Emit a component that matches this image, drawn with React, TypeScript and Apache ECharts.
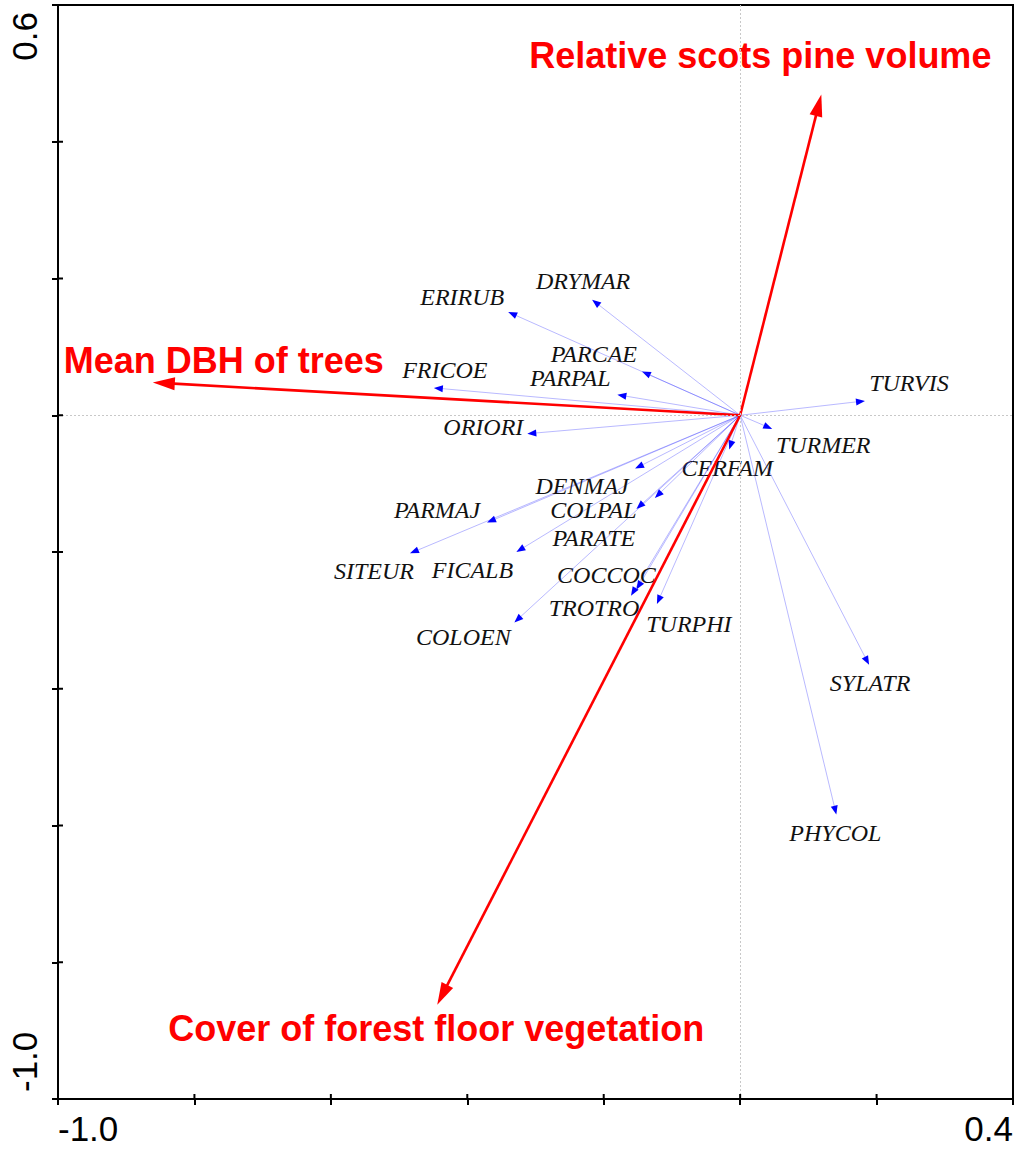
import React, { useEffect, useRef } from "react";
import * as echarts from "echarts";

// ---- Data ----
const X_MIN = -1.0;
const X_MAX = 0.4;
const Y_MIN = -1.0;
const Y_MAX = 0.6;
const TICK_STEP = 0.2;

const xTickLabels = ["-1.0", "0.4"]; // shown at min and max only
const yTickLabels = ["-1.0", "0.6"];
const xTickValues = [-1.0, -0.8, -0.6, -0.4, -0.2, 0.0, 0.2, 0.4];
const yTickValues = [-1.0, -0.8, -0.6, -0.4, -0.2, 0.0, 0.2, 0.4, 0.6];

const speciesNames = [
  "TURVIS", "TURMER", "CERFAM", "SYLATR", "PHYCOL", "TURPHI", "TROTRO",
  "COCCOC", "COLOEN", "FICALB", "SITEUR", "PARMAJ", "DENMAJ", "PARATE",
  "COLPAL", "ORIORI", "FRICOE", "PARPAL", "PARCAE", "ERIRUB", "DRYMAR",
];
const speciesX = [
  0.183, 0.047, -0.016, 0.189, 0.141, -0.122, -0.160,
  -0.152, -0.331, -0.328, -0.484, -0.371, -0.154, -0.125,
  -0.152, -0.312, -0.449, -0.180, -0.144, -0.340, -0.217,
];
const speciesY = [
  0.021, -0.020, -0.050, -0.365, -0.584, -0.276, -0.264,
  -0.255, -0.303, -0.200, -0.202, -0.157, -0.078, -0.121,
  -0.137, -0.027, 0.040, 0.030, 0.064, 0.151, 0.169,
];

const envNames = [
  "Relative scots pine volume",
  "Mean DBH of trees",
  "Cover of forest floor vegetation",
];
const envX = [0.119, -0.861, -0.444];
const envY = [0.469, 0.048, -0.862];

// ---- Label placement (pixel offsets of label centre from arrow tip) ----
const speciesLabelOffset: Record<string, [number, number]> = {
  TURVIS: [44, -18],
  TURMER: [51, 16],
  CERFAM: [-2, 19],
  SYLATR: [1, 18],
  PHYCOL: [-1, 18],
  TURPHI: [32, 20],
  TROTRO: [-37, 12],
  COCCOC: [-30, -15],
  COLOEN: [-51, 15],
  FICALB: [-44, 18],
  SITEUR: [-36, 18],
  PARMAJ: [-50, -13],
  DENMAJ: [-53, 17],
  PARATE: [-61, 40],
  COLPAL: [-43, 1],
  ORIORI: [-44, -7],
  FRICOE: [11, -18],
  PARPAL: [-47, -17],
  PARCAE: [-48, -17],
  ERIRUB: [-46, -15],
  DRYMAR: [-9, -19],
};
const envLabelOffset: [number, number][] = [
  [-61, -39],
  [71, -22],
  [-1, 24],
];

type ArrowStyle = {
  lineColor: string;
  lineWidth: number;
  headColor: string;
  headLen: number;
  headHalf: number;
  textColor: string;
  fontSize: number;
  fontFamily: string;
  fontStyle: string;
  fontWeight: string;
};

function makeRenderItem(
  names: string[],
  offsets: (name: string, i: number) => [number, number],
  st: ArrowStyle
) {
  return (params: any, api: any) => {
    const i = params.dataIndex;
    const o = api.coord([0, 0]);
    const p = api.coord([api.value(0), api.value(1)]);
    const dx = p[0] - o[0];
    const dy = p[1] - o[1];
    const len = Math.sqrt(dx * dx + dy * dy) || 1;
    const ux = dx / len;
    const uy = dy / len;
    const nx = -uy;
    const ny = ux;
    const bx = p[0] - ux * st.headLen;
    const by = p[1] - uy * st.headLen;
    const off = offsets(names[i], i);
    return {
      type: "group",
      children: [
        {
          type: "line",
          shape: { x1: o[0], y1: o[1], x2: bx + ux * 1, y2: by + uy * 1 },
          style: { stroke: st.lineColor, lineWidth: st.lineWidth },
        },
        {
          type: "polygon",
          shape: {
            points: [
              [p[0], p[1]],
              [bx + nx * st.headHalf, by + ny * st.headHalf],
              [bx - nx * st.headHalf, by - ny * st.headHalf],
            ],
          },
          style: { fill: st.headColor, stroke: null },
        },
        {
          type: "text",
          x: p[0] + off[0],
          y: p[1] + off[1],
          style: {
            text: names[i],
            fill: st.textColor,
            fontSize: st.fontSize,
            fontFamily: st.fontFamily,
            fontStyle: st.fontStyle,
            fontWeight: st.fontWeight,
            align: "center",
            verticalAlign: "middle",
          },
        },
      ],
    };
  };
}

const near = (a: number, b: number) => Math.abs(a - b) < 1e-9;

export default function App() {
  const ref = useRef<HTMLDivElement>(null);

  useEffect(() => {
    if (!ref.current) return;
    const chart = echarts.init(ref.current, null, { renderer: "svg" });

    const axisLineStyle = { color: "#000", width: 2 };
    const labelFont = '"Liberation Sans", Arial, Helvetica, sans-serif';
    const INNER_TICK = 5;

    // inner halves of the crossing tick marks (outer halves come from the axes)
    const tickData = [
      ...xTickValues.map((v) => ({ value: [v, Y_MIN, 0] })),
      ...yTickValues.map((v) => ({ value: [X_MIN, v, 1] })),
    ];

    const option: any = {
      animation: false,
      backgroundColor: "#ffffff",
      grid: {
        left: 58,
        right: 4,
        top: 5,
        bottom: 52,
        show: true,
        borderColor: "#000",
        borderWidth: 2,
        containLabel: false,
        outerBoundsMode: "none",
      },
      xAxis: {
        type: "value",
        position: "bottom",
        min: X_MIN,
        max: X_MAX,
        interval: TICK_STEP,
        axisLine: { show: true, onZero: false, lineStyle: axisLineStyle },
        axisTick: { show: true, length: 6, lineStyle: axisLineStyle },
        splitLine: { show: false },
        axisLabel: {
          show: true,
          margin: 12,
          fontSize: 35,
          fontFamily: labelFont,
          color: "#000",
          alignMinLabel: "left",
          alignMaxLabel: "right",
          formatter: (v: number) =>
            near(v, X_MIN) ? xTickLabels[0] : near(v, X_MAX) ? xTickLabels[1] : "",
        },
      },
      yAxis: {
        type: "value",
        position: "left",
        min: Y_MIN,
        max: Y_MAX,
        interval: TICK_STEP,
        axisLine: { show: true, onZero: false, lineStyle: axisLineStyle },
        axisTick: { show: true, length: 6, lineStyle: axisLineStyle },
        splitLine: { show: false },
        axisLabel: {
          show: true,
          rotate: 90,
          margin: 16,
          fontSize: 35,
          fontFamily: labelFont,
          color: "#000",
          padding: [0, 7, 0, 7],
          alignMinLabel: "left",
          alignMaxLabel: "right",
          formatter: (v: number) =>
            near(v, Y_MIN) ? yTickLabels[0] : near(v, Y_MAX) ? yTickLabels[1] : "",
        },
      },
      series: [
        {
          type: "custom",
          name: "innerTicks",
          silent: true,
          z: 5,
          clip: false,
          data: tickData,
          renderItem: (_params: any, api: any) => {
            const p = api.coord([api.value(0), api.value(1)]);
            const isX = api.value(2) === 0;
            return {
              type: "line",
              shape: isX
                ? { x1: p[0], y1: p[1], x2: p[0], y2: p[1] - INNER_TICK }
                : { x1: p[0], y1: p[1], x2: p[0] + INNER_TICK, y2: p[1] },
              style: { stroke: "#000", lineWidth: 2 },
            };
          },
        },
        {
          type: "custom",
          name: "species",
          silent: true,
          z: 2,
          data: speciesNames.map((n, i) => ({ name: n, value: [speciesX[i], speciesY[i]] })),
          renderItem: makeRenderItem(
            speciesNames,
            (n) => speciesLabelOffset[n] || [0, 0],
            {
              lineColor: "rgba(60,60,255,0.45)",
              lineWidth: 0.8,
              headColor: "#0000ff",
              headLen: 9,
              headHalf: 3.5,
              textColor: "#111",
              fontSize: 24,
              fontFamily: '"Liberation Serif", "Times New Roman", Times, serif',
              fontStyle: "italic",
              fontWeight: "normal",
            }
          ),
          markLine: {
            silent: true,
            symbol: "none",
            label: { show: false },
            lineStyle: { color: "#c8c8c8", width: 1, type: [2, 2] },
            data: [{ xAxis: 0 }, { yAxis: 0 }],
          },
        },
        {
          type: "custom",
          name: "environment",
          silent: true,
          z: 3,
          data: envNames.map((n, i) => ({ name: n, value: [envX[i], envY[i]] })),
          renderItem: makeRenderItem(
            envNames,
            (_n, i) => envLabelOffset[i],
            {
              lineColor: "#ff0000",
              lineWidth: 2.6,
              headColor: "#ff0000",
              headLen: 22,
              headHalf: 6.5,
              textColor: "#ff0000",
              fontSize: 36,
              fontFamily: labelFont,
              fontStyle: "normal",
              fontWeight: "bold",
            }
          ),
        },
      ],
    };

    chart.setOption(option);
    return () => {
      chart.dispose();
    };
  }, []);

  return (
    <div
      ref={ref}
      style={{ position: "fixed", left: 0, top: 0, width: 1017, height: 1151, background: "#fff" }}
    />
  );
}
